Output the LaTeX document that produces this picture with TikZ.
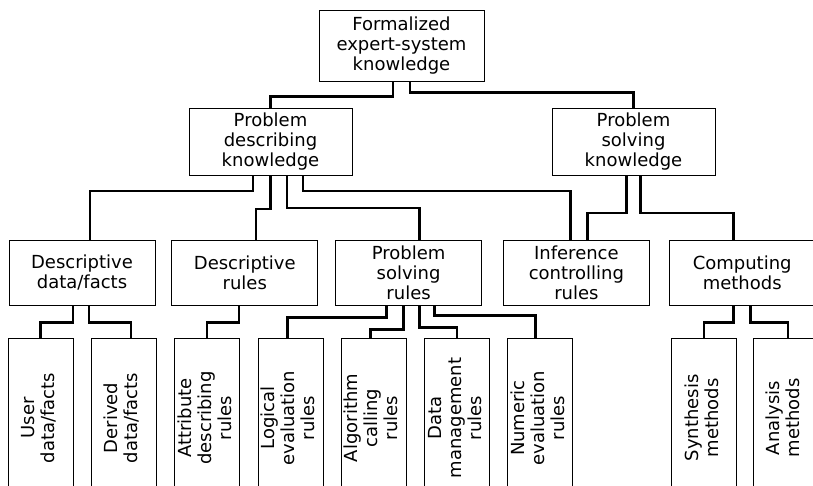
\documentclass[tikz,border=0pt]{standalone}
\usepackage{fontspec}
\setmainfont{DejaVu Sans}
\usepackage{graphicx}
\usetikzlibrary{positioning}
\newcommand{\vlabel}[1]{\rotatebox{90}{\begin{tabular}{@{}c@{}}#1\end{tabular}}}
\tikzset{
  kbox/.style={draw, line width=0.8pt, align=center, inner sep=2pt, font=\fontsize{18}{20}\selectfont},
  topbox/.style={kbox, minimum width=165pt, minimum height=71pt},
  midbox/.style={kbox, minimum width=163pt, minimum height=67pt},
  catbox/.style={kbox, minimum width=146pt, minimum height=65pt},
  leaf/.style={kbox, minimum width=65pt, minimum height=160pt},
  conn/.style={line width=2.6pt}
}
\begin{document}
\begin{tikzpicture}[x=1pt,y=1pt]
\useasboundingbox (0,0) rectangle (813,-485);
\clip (0,0) rectangle (813,-485);
% top levels
\node[topbox] (top) at (401.5,-45.5) {Formalized\\expert-system\\knowledge};
\node[midbox] (pdk) at (270.5,-142) {Problem\\describing\\knowledge};
\node[midbox] (psk) at (633.5,-142) {Problem\\solving\\knowledge};
% categories
\node[catbox] (dd) at (82,-272.5) {Descriptive\\data/facts};
\node[catbox, right=16pt of dd] (dr) {Descriptive\\rules};
\node[catbox, right=17pt of dr] (psr) {Problem\\solving\\rules};
\node[catbox, right=21pt of psr] (inf) {Inference\\controlling\\rules};
\node[catbox, right=19pt of inf] (comp) {Computing\\methods};
% leaves
\node[leaf] (user) at (40.5,-418) {\vlabel{User\\data/facts}};
\node[leaf, right=17.5pt of user] (derived) {\vlabel{Derived\\data/facts}};
\node[leaf, right=17.5pt of derived] (attr) {\vlabel{Attribute\\describing\\rules}};
\node[leaf, right=17.5pt of attr] (logical) {\vlabel{Logical\\evaluation\\rules}};
\node[leaf, right=17.5pt of logical] (algo) {\vlabel{Algorithm\\calling\\rules}};
\node[leaf, right=17.5pt of algo] (datam) {\vlabel{Data\\management\\rules}};
\node[leaf, right=17.5pt of datam] (numeric) {\vlabel{Numeric\\evaluation\\rules}};
\node[leaf, right=98pt of numeric] (synth) {\vlabel{Synthesis\\methods}};
\node[leaf, right=16pt of synth] (analysis) {\vlabel{Analysis\\methods}};
% connectors
\draw[conn] ([xshift=-8.5pt]top.south) -- ++(0,-15) -| (pdk.north);
\draw[conn] ([xshift=8.5pt]top.south) -- ++(0,-11) -| (psk.north);
\draw[conn] ([xshift=-17.5pt]pdk.south) -- ++(0,-15) -| ([xshift=8pt]dd.north);
\draw[conn] (pdk.south) -- ++(0,-33) -| ([xshift=11pt]dr.north);
\draw[conn] ([xshift=16.5pt]pdk.south) -- ++(0,-32) -| ([xshift=11pt]psr.north);
\draw[conn] ([xshift=32.5pt]pdk.south) -- ++(0,-15) -| ([xshift=-6pt]inf.north);
\draw[conn] ([xshift=-7pt]psk.south) -- ++(0,-37) -| ([xshift=11pt]inf.north);
\draw[conn] ([xshift=7pt]psk.south) -- ++(0,-37) -| ([xshift=-9pt]comp.north);
\draw[conn] ([xshift=-9pt]dd.south) -- ++(0,-17) -| (user.north);
\draw[conn] ([xshift=7pt]dd.south) -- ++(0,-17) -| ([xshift=7pt]derived.north);
\draw[conn] ([xshift=-6pt]dr.south) -- ++(0,-17) -| (attr.north);
\draw[conn] ([xshift=-22pt]psr.south) -- ++(0,-12) -| ([xshift=-3pt]logical.north);
\draw[conn] ([xshift=-5pt]psr.south) -- ++(0,-24) -| ([xshift=-3pt]algo.north);
\draw[conn] ([xshift=11pt]psr.south) -- ++(0,-22) -| (datam.north);
\draw[conn] ([xshift=26pt]psr.south) -- ++(0,-10) -| ([xshift=-5pt]numeric.north);
\draw[conn] ([xshift=-9pt]comp.south) -- ++(0,-17) -| (synth.north);
\draw[conn] ([xshift=8pt]comp.south) -- ++(0,-17) -| ([xshift=2pt]analysis.north);
\end{tikzpicture}
\end{document}
